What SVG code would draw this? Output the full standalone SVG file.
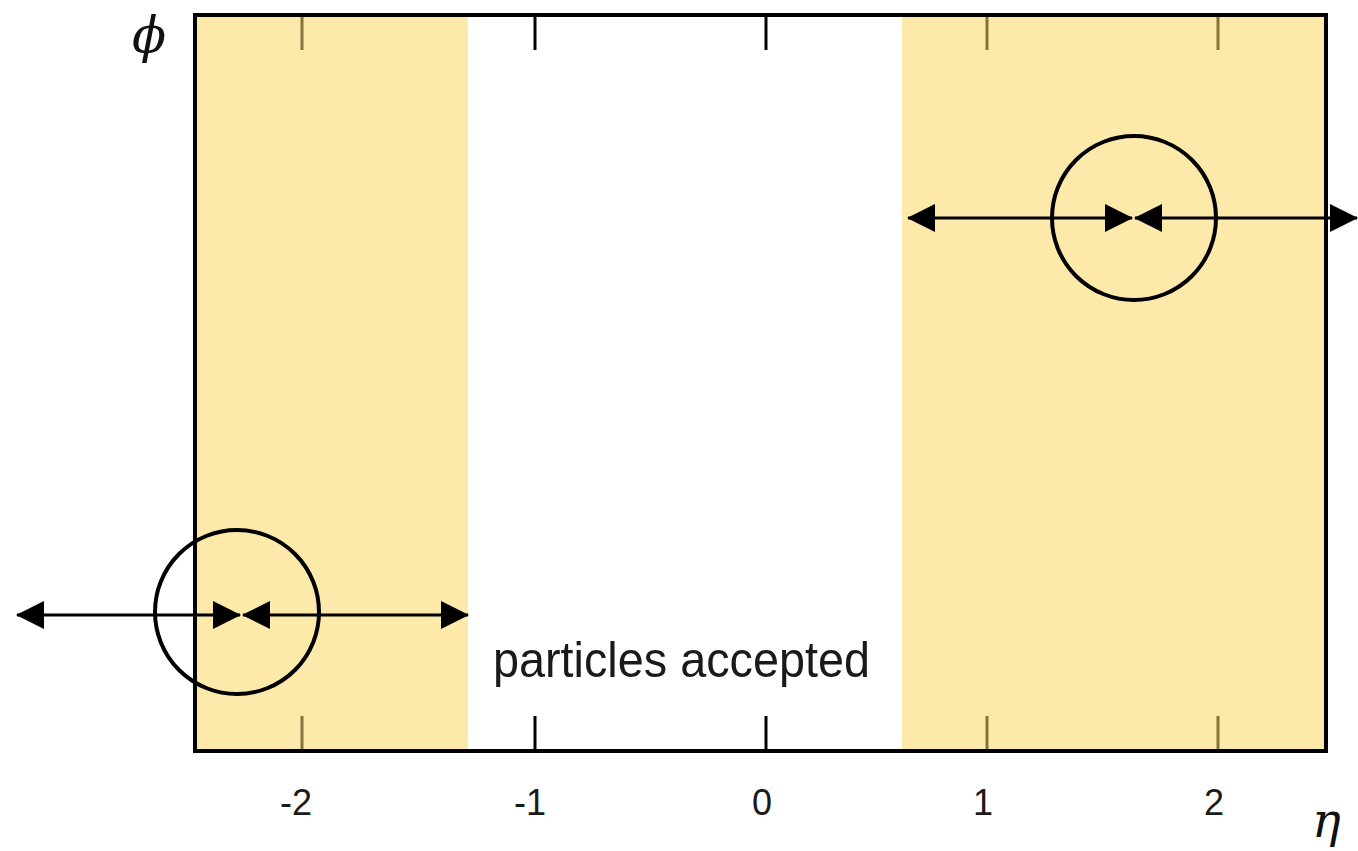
<svg xmlns="http://www.w3.org/2000/svg" width="1358" height="851" viewBox="0 0 1358 851">
<style>
.band{fill:#FDE9AA}
.frame{fill:none;stroke:#000;stroke-width:4}
.tk{stroke:#000;stroke-width:3}
.tky{stroke:#87733C;stroke-width:3}
.lbl{font-family:"Liberation Sans",Arial,sans-serif;font-size:36px;fill:#1a1a1a;text-anchor:middle}
.big{font-family:"Liberation Sans",Arial,sans-serif;font-size:50px;fill:#1a1a1a}
.sym{font-family:"DejaVu Serif",serif;font-style:italic;fill:#111}
.circ{fill:none;stroke:#000;stroke-width:4}
.arr{stroke:#000;stroke-width:3.2;fill:none;marker-start:url(#ah);marker-end:url(#ah)}
</style>
<defs>
<marker id="ah" viewBox="0 0 28 28" refX="27" refY="14" markerWidth="28" markerHeight="28" markerUnits="userSpaceOnUse" orient="auto-start-reverse">
<path d="M0,0 L28,14 L0,28 z" fill="#000"/>
</marker>
</defs>
<g id="bands">
<rect class="band" x="195" y="15" width="273" height="736"/>
<rect class="band" x="902" y="15" width="424" height="736"/>
</g>
<g id="ticks">
<line class="tky" x1="302" y1="15" x2="302" y2="50"/>
<line class="tk" x1="535" y1="15" x2="535" y2="50"/>
<line class="tk" x1="766" y1="15" x2="766" y2="50"/>
<line class="tky" x1="987" y1="15" x2="987" y2="50"/>
<line class="tky" x1="1218" y1="15" x2="1218" y2="50"/>
<line class="tky" x1="302" y1="716" x2="302" y2="751"/>
<line class="tk" x1="535" y1="716" x2="535" y2="751"/>
<line class="tk" x1="766" y1="716" x2="766" y2="751"/>
<line class="tky" x1="987" y1="716" x2="987" y2="751"/>
<line class="tky" x1="1218" y1="716" x2="1218" y2="751"/>
</g>
<g id="frame">
<rect class="frame" x="195" y="15" width="1131" height="736"/>
</g>
<g id="axis-labels">
<text class="lbl" x="296" y="815">-2</text>
<text class="lbl" x="530" y="815">-1</text>
<text class="lbl" x="762" y="815">0</text>
<text class="lbl" x="983" y="815">1</text>
<text class="lbl" x="1214" y="815">2</text>
<text class="sym" x="132" y="52" font-size="50">ϕ</text>
<text class="sym" x="1312" y="837" font-size="48">η</text>
</g>
<g id="circle-right">
<circle class="circ" cx="1134" cy="218" r="82"/>
</g>
<g id="circle-left">
<circle class="circ" cx="237" cy="612" r="82"/>
</g>
<g id="text-accepted">
<text class="big" x="493" y="677" textLength="377" lengthAdjust="spacingAndGlyphs">particles accepted</text>
</g>
<g id="connectors">
<line class="arr" x1="908" y1="218" x2="1132" y2="218"/>
<line class="arr" x1="1135" y1="218" x2="1357" y2="218"/>
<line class="arr" x1="17" y1="615" x2="240" y2="615"/>
<line class="arr" x1="243" y1="615" x2="468" y2="615"/>
</g>
</svg>
